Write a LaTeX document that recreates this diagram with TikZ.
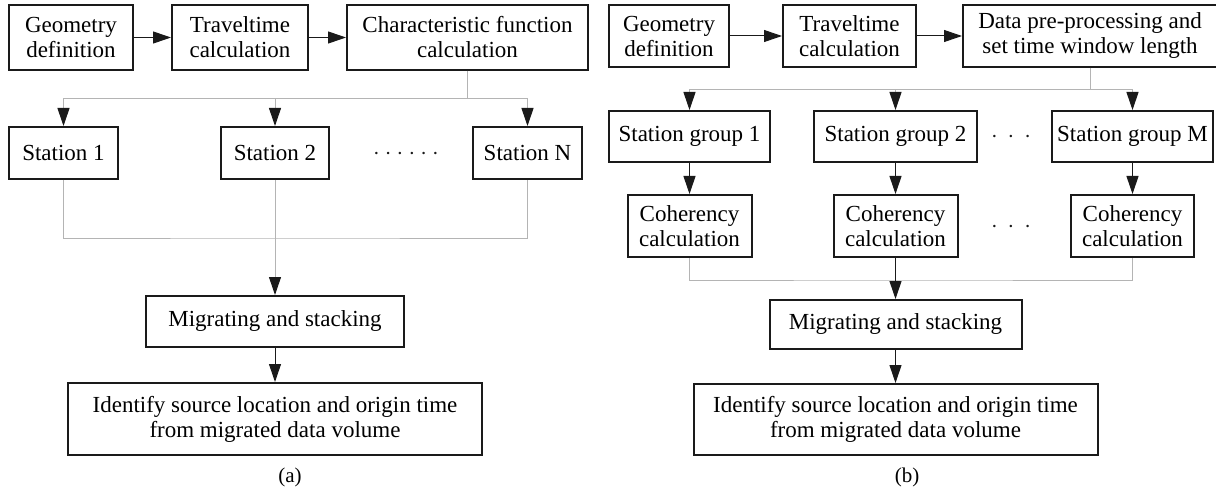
\documentclass[tikz,border=0pt]{standalone}
\usepackage{fontspec}
\setmainfont{Liberation Serif}
\usepackage{xcolor}
\definecolor{cInk}{HTML}{1A1A1A}
\definecolor{cLine}{HTML}{B4B4B4}
\usepackage{tikz}
\usetikzlibrary{positioning,arrows.meta}
\tikzset{
  node-box/.style={draw=cInk,line width=1pt,inner sep=1pt,align=center,
    font=\fontsize{11.5}{12.5}\selectfont},
  box-wh/.style 2 args={minimum width=#1,minimum height=#2},
  node-dots/.style={inner sep=0pt,text=cInk,font=\fontsize{11.5}{12.5}\selectfont},
  node-label/.style={inner sep=0pt,font=\fontsize{10.5}{12}\selectfont},
  % 主流程用黑线；分发/汇总用浅灰线，箭头仍为黑色
  arrow/.style={-{Triangle[length=9pt,width=6pt]},line width=0.5pt,draw=cInk},
  arrow-split/.style={-{Triangle[length=9pt,width=6pt,color=cInk]},
    line width=0.5pt,draw=cLine},
  line-split/.style={line width=0.5pt,draw=cLine},
}

\begin{document}
\begin{tikzpicture}[x=0.5pt,y=-0.5pt]
  \useasboundingbox (0,0) rectangle (1216,492);
  % (a)
  \node[node-box,box-wh={62pt}{32.5pt}] (ga) at (71,37.5) {Geometry\\definition};
  \node[node-box,box-wh={68pt}{32.5pt},right=18.5pt of ga]    (ta) {Traveltime\\calculation};
  \node[node-box,box-wh={120.5pt}{32.5pt},right=18.5pt of ta] (ca) {Characteristic function\\calculation};
  \node[node-box,box-wh={54.5pt}{26pt}] (sa1) at (63.5,153) {Station 1};
  \node[node-box,box-wh={54pt}{26pt}]   (sa2) at (275,153)  {Station 2};
  \node[node-box,box-wh={54.5pt}{26pt}] (saN) at (527.5,153) {Station N};
  \node[node-dots] (dotsa) at (406,154)
    {${\cdot}\hspace{2.6pt}{\cdot}\hspace{2.6pt}{\cdot}\hspace{2.6pt}{\cdot}\hspace{2.6pt}{\cdot}\hspace{2.6pt}{\cdot}$};
  \node[node-box,box-wh={129pt}{25.5pt}] (ma) at (275,321.5) {Migrating and stacking};
  \node[node-box,box-wh={207pt}{36pt},below=17pt of ma] (ia)
    {Identify source location and origin time\\from migrated data volume};
  \node[node-label] (laba) at (290,477) {(a)};
  \coordinate[below=14pt of ca]  (busa);
  \coordinate[below=29pt of sa2] (joina);
  \draw[arrow] (ga) -- (ta);
  \draw[arrow] (ta) -- (ca);
  \draw[arrow-split] (ca.south) -- (busa) -| (sa1.north);
  \draw[arrow-split] (ca.south) -- (busa) -| (sa2.north);
  \draw[arrow-split] (ca.south) -- (busa) -| (saN.north);
  \draw[line-split] (sa1.south) |- (joina) -| (saN.south);
  \draw[arrow-split] (sa2.south) -- (ma.north);
  \draw[arrow] (ma) -- (ia);
  % (b)
  \node[node-box,box-wh={60pt}{31pt}] (gb) at (669,36) {Geometry\\definition};
  \node[node-box,box-wh={66.5pt}{31pt},right=26pt of gb]  (tb) {Traveltime\\calculation};
  \node[node-box,box-wh={127pt}{31pt},right=22.5pt of tb] (db) {Data pre-processing and\\set time window length};
  \node[node-box,box-wh={80.5pt}{25.5pt}] (sb1) at (689.5,136.5)  {Station group 1};
  \node[node-box,box-wh={81.5pt}{25.5pt}] (sb2) at (895.5,136.5)  {Station group 2};
  \node[node-box,box-wh={80.5pt}{25.5pt}] (sbM) at (1132.5,136.5) {Station group M};
  \node[node-dots] (dotsb1) at (1011,137) {${\cdot}\hspace{5pt}{\cdot}\hspace{5pt}{\cdot}$};
  \node[node-box,box-wh={62pt}{31pt},below=15.5pt of sb1]   (cb1) {Coherency\\calculation};
  \node[node-box,box-wh={62pt}{31pt},below=15.5pt of sb2]   (cb2) {Coherency\\calculation};
  \node[node-box,box-wh={61.5pt}{31pt},below=15.5pt of sbM] (cbM) {Coherency\\calculation};
  \node[node-dots] (dotsb2) at (1011,227) {${\cdot}\hspace{5pt}{\cdot}\hspace{5pt}{\cdot}$};
  \node[node-box,box-wh={126pt}{24.5pt}] (mb) at (895.5,324.5) {Migrating and stacking};
  \node[node-box,box-wh={202pt}{35.5pt},below=16.5pt of mb] (ib)
    {Identify source location and origin time\\from migrated data volume};
  \node[node-label] (labb) at (907,477) {(b)};
  \coordinate[below=11pt of db]  (busb);
  \coordinate[below=11pt of cb2] (joinb);
  \draw[arrow] (gb) -- (tb);
  \draw[arrow] (tb) -- (db);
  \draw[arrow-split] (db.south) -- (busb) -| (sb1.north);
  \draw[arrow-split] (db.south) -- (busb) -| (sb2.north);
  \draw[arrow-split] (db.south) -- (busb) -| (sbM.north);
  \draw[arrow] (sb1) -- (cb1);
  \draw[arrow] (sb2) -- (cb2);
  \draw[arrow] (sbM) -- (cbM);
  \draw[line-split] (cb1.south) |- (joinb) -| (cbM.south);
  \draw[arrow] (cb2) -- (mb);
  \draw[arrow] (mb) -- (ib);
\end{tikzpicture}
\end{document}
